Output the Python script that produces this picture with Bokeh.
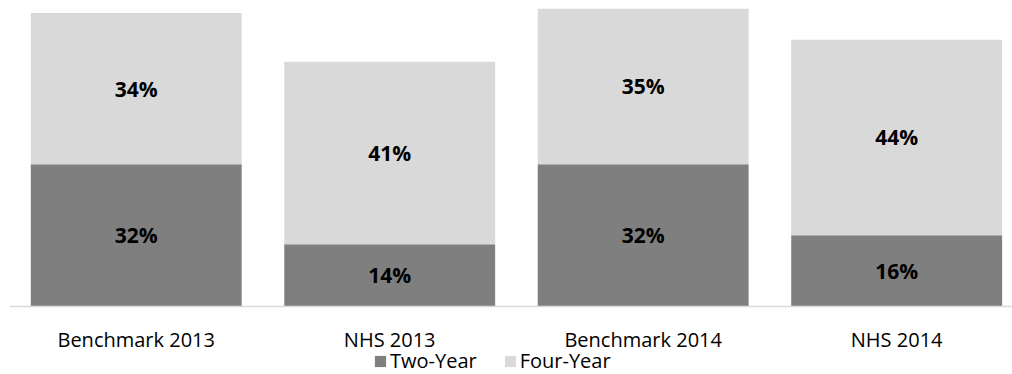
from bokeh.plotting import figure
from bokeh.models import (ColumnDataSource, Range1d, FixedTicker, Legend, LegendItem,
                          LabelSet, LinearAxis)
from bokeh.core.properties import value
from bokeh.embed import file_html
from bokeh.resources import INLINE

categories = ["Benchmark 2013", "NHS 2013", "Benchmark 2014", "NHS 2014"]
two_year = [32, 14, 32, 16]
four_year = [34, 41, 35, 44]

FONT = "Open Sans"
DARK = "#7f7f7f"
LIGHT = "#d9d9d9"

xs = list(range(len(categories)))
src = ColumnDataSource(dict(
    x=xs,
    top_two=two_year,
    bottom_four=two_year,
    top_four=[a + b for a, b in zip(two_year, four_year)],
    y_two=[a / 2 for a in two_year],
    y_four=[a + b / 2 for a, b in zip(two_year, four_year)],
    lab_two=[f"{v}%" for v in two_year],
    lab_four=[f"{v}%" for v in four_year],
))

p = figure(frame_width=1003, frame_height=366, output_backend="svg", toolbar_location=None,
           x_range=Range1d(-0.5, 3.457), y_range=Range1d(-15.29, 67),
           x_axis_location=None,
           min_border_left=9, min_border_right=0, min_border_top=8, min_border_bottom=0)
p.outline_line_color = None
p.grid.visible = False
p.yaxis.visible = False
p.background_fill_color = "white"
p.border_fill_color = "white"

r_two = p.vbar(x="x", bottom=0, top="top_two", width=0.832, source=src,
               fill_color=DARK, line_color=None)
r_four = p.vbar(x="x", bottom="bottom_four", top="top_four", width=0.832, source=src,
                fill_color=LIGHT, line_color=None)

for ycol, lcol in (("y_two", "lab_two"), ("y_four", "lab_four")):
    ls = LabelSet(x="x", y=ycol, text=lcol, source=src, text_align="center",
                  text_baseline="middle", text_font=value(FONT), text_font_style="bold",
                  text_font_size="21px", text_color="black")
    p.add_layout(ls)

ax = LinearAxis(fixed_location=0)
ax.ticker = FixedTicker(ticks=xs)
ax.major_label_overrides = {i: c for i, c in enumerate(categories)}
ax.major_tick_line_color = None
ax.minor_tick_line_color = None
ax.major_tick_out = 0
ax.major_tick_in = 0
ax.axis_line_color = LIGHT
ax.axis_line_width = 1.5
ax.major_label_standoff = 20
ax.major_label_text_font = FONT
ax.major_label_text_font_size = "20px"
ax.major_label_text_color = "black"
p.add_layout(ax, "below")

legend = Legend(items=[LegendItem(label="Two-Year", renderers=[r_two]),
                       LegendItem(label="Four-Year", renderers=[r_four])],
                orientation="horizontal", location=(364, 0),
                label_text_font=FONT, label_text_font_size="20px", label_text_color="black",
                glyph_width=14, glyph_height=14, spacing=26, padding=0, margin=0,
                label_standoff=3, border_line_color=None, background_fill_alpha=0,
                label_height=14)
p.add_layout(legend, "center")

open("out.html", "w").write(file_html(p, INLINE))
